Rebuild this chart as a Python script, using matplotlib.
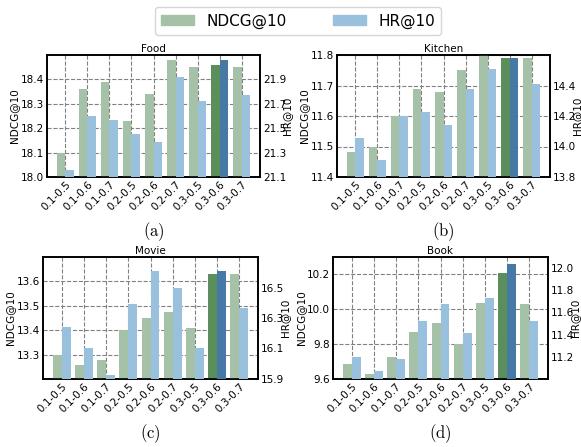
import numpy as np
import matplotlib
matplotlib.use('Agg')
import matplotlib.pyplot as plt
from matplotlib.patches import Patch

# Data
settings = ['0.1-0.5', '0.1-0.6', '0.1-0.7', '0.2-0.5', '0.2-0.6',
            '0.2-0.7', '0.3-0.5', '0.3-0.6', '0.3-0.7']
best = 7  # index of 0.3-0.6, highlighted

food_ndcg = [18.10, 18.36, 18.39, 18.23, 18.34, 18.48, 18.45, 18.46, 18.45]
food_hr = [21.155, 21.597, 21.564, 21.45, 21.384, 21.917, 21.72, 22.056, 21.769]
kitchen_ndcg = [11.481, 11.50, 11.60, 11.69, 11.68, 11.75, 11.80, 11.79, 11.79]
kitchen_hr = [14.056, 13.909, 14.198, 14.224, 14.139, 14.375, 14.506, 14.578, 14.41]
movie_ndcg = [13.30, 13.259, 13.279, 13.40, 13.45, 13.473, 13.41, 13.631, 13.631]
movie_hr = [16.243, 16.10, 15.928, 16.393, 16.609, 16.498, 16.10, 16.61, 16.367]
book_ndcg = [9.688, 9.631, 9.728, 9.871, 9.923, 9.803, 10.036, 10.208, 10.03]
book_hr = [11.202, 11.075, 11.184, 11.527, 11.68, 11.419, 11.726, 12.033, 11.527]

c_ndcg, c_hr = '#a5c2a8', '#99c0dc'
c_ndcg_best, c_hr_best = '#5a8f5c', '#4679a6'

panels = [
    # title, ndcg, hr, ndcg ylim, ndcg ticks, hr ylim, hr ticks, caption, axes rect
    ('Food', food_ndcg, food_hr, (18.0, 18.5), [18.0, 18.1, 18.2, 18.3, 18.4],
     (21.1, 22.1), [21.1, 21.3, 21.5, 21.7, 21.9], '(a)', [47, 55, 260, 177]),
    ('Kitchen', kitchen_ndcg, kitchen_hr, (11.4, 11.8), [11.4, 11.5, 11.6, 11.7, 11.8],
     (13.8, 14.6), [13.8, 14.0, 14.2, 14.4], '(b)', [337, 55, 550, 177]),
    ('Movie', movie_ndcg, movie_hr, (13.2, 13.7), [13.3, 13.4, 13.5, 13.6],
     (15.9, 16.7), [15.9, 16.1, 16.3, 16.5], '(c)', [43, 257, 258, 379]),
    ('Book', book_ndcg, book_hr, (9.6, 10.3), [9.6, 9.8, 10.0, 10.2],
     (11.0, 12.1), [11.2, 11.4, 11.6, 11.8, 12.0], '(d)', [333, 257, 548, 379]),
]

W, H = 581, 447
fig = plt.figure(figsize=(W / 100, H / 100), dpi=100)
plt.rcParams['mathtext.fontset'] = 'cm'

x = np.arange(len(settings))
w = 0.4
fs = 7.5

for title, ndcg, hr, ylim1, yt1, ylim2, yt2, cap, (l, t, r, b) in panels:
    ax = fig.add_axes([l / W, 1 - b / H, (r - l) / W, (b - t) / H])
    ax2 = ax.twinx()

    col1 = [c_ndcg_best if i == best else c_ndcg for i in range(len(x))]
    col2 = [c_hr_best if i == best else c_hr for i in range(len(x))]
    ax.bar(x - w / 2, ndcg, w, color=col1, zorder=3)
    ax2.bar(x + w / 2, hr, w, color=col2, zorder=3)

    ax.set_ylim(*ylim1)
    ax.set_yticks(yt1)
    ax2.set_ylim(*ylim2)
    ax2.set_yticks(yt2)
    ax.set_xticks(x)
    ax.set_xticklabels(settings, rotation=45, ha='right', rotation_mode='anchor',
                       fontsize=fs)
    ax.tick_params(length=0, labelsize=fs, pad=2)
    ax2.tick_params(length=0, labelsize=fs, pad=2)
    ax.grid(True, linestyle='--', color='gray', linewidth=0.8, zorder=0)
    ax.set_axisbelow(True)
    ax.set_ylabel('NDCG@10', fontsize=fs, labelpad=1)
    ax2.set_ylabel('HR@10', fontsize=fs, labelpad=-3)
    ax.set_title(title, fontsize=fs, pad=2)
    for a in (ax, ax2):
        for s in a.spines.values():
            s.set_linewidth(1.2)

    fig.text(((l + r) / 2) / W, 1 - (b + 55) / H, r'$\mathrm{' + cap + '}$',
             ha='center', va='center', fontsize=12)

handles = [Patch(color=c_ndcg, label='NDCG@10'), Patch(color=c_hr, label='HR@10')]
fig.legend(handles=handles, loc='center', bbox_to_anchor=(298 / W, 1 - 21 / H),
           ncol=2, fontsize=11, columnspacing=3.0, handlelength=2.2,
           handleheight=0.55, frameon=True)

fig.savefig('out.png', dpi=100)
